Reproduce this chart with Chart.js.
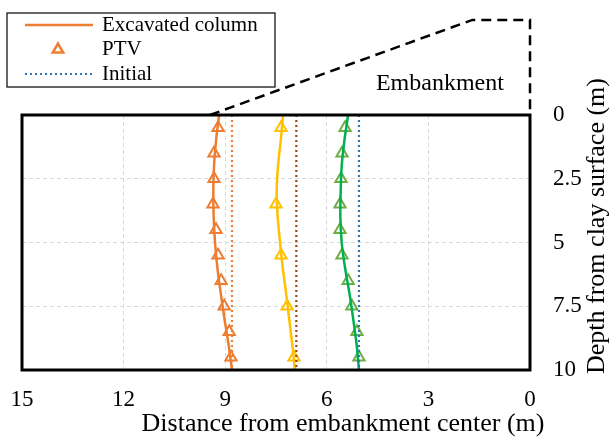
<!DOCTYPE html>
<html>
<head>
<meta charset="utf-8">
<script src="https://cdn.jsdelivr.net/npm/chart.js@4.4.1/dist/chart.umd.min.js"></script>
<style>
  html, body { margin: 0; padding: 0; background: #fff; }
</style>
</head>
<body>
<canvas id="profile" width="611" height="438"></canvas>
<script>
// depth (m) for the fitted profiles and for the PTV readings
const lineDepths = [0, 1, 2, 3, 4, 5, 6, 7, 8, 9, 10];
const ptvDepths = [0.5, 1.5, 2.5, 3.5, 4.5, 5.5, 6.5, 7.5, 8.5, 9.5];
const ptvDepthsMid = [0.5, 3.5, 5.5, 7.5, 9.5];

// excavated column positions, distance from embankment centre (m)
const colOuter = [9.18, 9.27, 9.33, 9.35, 9.34, 9.3, 9.23, 9.13, 9.02, 8.9, 8.8];
const colMid = [7.29, 7.36, 7.44, 7.48, 7.45, 7.38, 7.3, 7.2, 7.11, 7.02, 6.94];
const colInner = [5.37, 5.48, 5.56, 5.59, 5.6, 5.56, 5.46, 5.33, 5.22, 5.12, 5.05];

// PTV readings
const ptvOuter = [9.21, 9.33, 9.33, 9.36, 9.27, 9.21, 9.12, 9.03, 8.88, 8.83];
const ptvMid = [7.35, 7.5, 7.35, 7.17, 6.97];
const ptvInner = [5.46, 5.55, 5.58, 5.61, 5.61, 5.55, 5.37, 5.26, 5.11, 5.05];

// initial column positions
const initOuter = 8.8;
const initMid = 6.9;
const initInner = 5.05;
const initDepths = [0, 10];

// embankment outline (distance, depth above clay surface is negative)
const embX = [9.45, 1.7, 0, 0];
const embY = [0, -3.73, -3.73, 0];
const embLabel = { x: 2.66, y: -1.22, text: 'Embankment' };

const legendItems = ['Excavated column', 'PTV', 'Initial'];
const xTitle = 'Distance from embankment center (m)';
const yTitle = 'Depth from clay surface (m)';

const SERIF = '"Liberation Serif", "Times New Roman", serif';
const ORANGE = '#ED7D31', YELLOW = '#FFC000', GREEN = '#00B050', GREEN_PT = '#70AD47';
const BROWN = '#9E480E', BLUE = '#2E75B6';

const pts = (xs, ys) => xs.map((v, i) => ({ x: v, y: ys[i] }));
const flat = (v) => initDepths.map(d => ({ x: v, y: d }));

function profile(xs, color) {
  return { data: pts(xs, lineDepths), borderColor: color, borderWidth: 2.5,
           pointRadius: 0, tension: 0.3, fill: false };
}
function ptv(xs, ys, color) {
  return { data: pts(xs, ys), showLine: false, pointStyle: 'triangle',
           pointRadius: 6.5, pointBorderWidth: 2, pointBorderColor: color,
           pointBackgroundColor: 'rgba(0,0,0,0)', borderColor: color };
}
function initial(v, color) {
  return { data: flat(v), borderColor: color, borderWidth: 2.2, borderDash: [2, 3],
           pointRadius: 0, fill: false };
}

// frame round the plot, embankment label and both axis titles
const frame = {
  id: 'frame',
  afterDatasetsDraw(chart) {
    const { ctx, chartArea: a } = chart;
    ctx.save();
    ctx.strokeStyle = '#000';
    ctx.lineWidth = 3;
    ctx.strokeRect(a.left, a.top, a.right - a.left, a.bottom - a.top);

    const sx = chart.scales.x, sy = chart.scales.y;
    ctx.fillStyle = '#000';
    ctx.textAlign = 'center';
    ctx.textBaseline = 'middle';
    ctx.font = '24px ' + SERIF;
    ctx.fillText(embLabel.text, sx.getPixelForValue(embLabel.x), sy.getPixelForValue(embLabel.y));

    ctx.font = '26px ' + SERIF;
    ctx.fillText(xTitle, a.left + 321, 424);
    ctx.translate(597, a.top + 111);
    ctx.rotate(-Math.PI / 2);
    ctx.fillText(yTitle, 0, 0);
    ctx.restore();
  }
};

const boxLegend = {
  id: 'boxLegend',
  afterDraw(chart) {
    const ctx = chart.ctx;
    const left = 7, top = 13, w = 268, h = 74, row = 24.5;
    ctx.save();
    ctx.strokeStyle = '#000';
    ctx.lineWidth = 1.2;
    ctx.strokeRect(left, top, w, h);
    ctx.font = '21px ' + SERIF;
    ctx.textBaseline = 'middle';
    ctx.textAlign = 'left';
    legendItems.forEach((label, i) => {
      const y = top + 12 + i * row;
      if (i === 0) {
        ctx.strokeStyle = ORANGE; ctx.lineWidth = 2.5; ctx.setLineDash([]);
        ctx.beginPath(); ctx.moveTo(25, y); ctx.lineTo(93, y); ctx.stroke();
      } else if (i === 1) {
        ctx.strokeStyle = ORANGE;
        ctx.fillStyle = 'rgba(0,0,0,0)';
        Chart.helpers.drawPoint(ctx, { pointStyle: 'triangle', radius: 6, borderWidth: 2 }, 58, y);
      } else {
        ctx.strokeStyle = BLUE; ctx.lineWidth = 2; ctx.setLineDash([2, 3]);
        ctx.beginPath(); ctx.moveTo(25, y); ctx.lineTo(93, y); ctx.stroke();
        ctx.setLineDash([]);
      }
      ctx.fillStyle = '#000';
      ctx.fillText(label, 102, y);
    });
    ctx.restore();
  }
};

new Chart(document.getElementById('profile'), {
  type: 'line',
  data: {
    datasets: [
      initial(initOuter, ORANGE),
      initial(initMid, BROWN),
      initial(initInner, BLUE),
      profile(colOuter, ORANGE),
      profile(colMid, YELLOW),
      profile(colInner, GREEN),
      ptv(ptvOuter, ptvDepths, ORANGE),
      ptv(ptvMid, ptvDepthsMid, YELLOW),
      ptv(ptvInner, ptvDepths, GREEN_PT),
      { data: pts(embX, embY), borderColor: '#000', borderWidth: 2.5, borderDash: [10, 6],
        pointRadius: 0, tension: 0, clip: false, fill: false }
    ]
  },
  options: {
    responsive: false,
    animation: false,
    layout: { padding: { top: 115, left: 22, right: 0, bottom: 0 } },
    plugins: { legend: { display: false }, tooltip: { enabled: false } },
    scales: {
      x: {
        type: 'linear', reverse: true, min: 0, max: 15,
        afterFit(s) { s.height = 68; s.paddingLeft = 0; s.paddingRight = 0; },
        ticks: { stepSize: 3, color: '#000', padding: 16, font: { family: SERIF, size: 23 } },
        grid: {
          drawTicks: false,
          color: c => (c.tick.value === 0 || c.tick.value === 15) ? 'rgba(0,0,0,0)' : '#d9d9d9'
        },
        border: { display: false, dash: [4, 3] },
        title: { display: false }
      },
      y: {
        type: 'linear', reverse: true, min: 0, max: 10, position: 'right',
        afterFit(s) { s.width = 81; s.paddingTop = 0; s.paddingBottom = 0; },
        ticks: { stepSize: 2.5, color: '#000', padding: 23, font: { family: SERIF, size: 23 } },
        grid: {
          drawTicks: false,
          color: c => (c.tick.value === 0 || c.tick.value === 10) ? 'rgba(0,0,0,0)' : '#d9d9d9'
        },
        border: { display: false, dash: [4, 3] },
        title: { display: false }
      }
    }
  },
  plugins: [frame, boxLegend]
});
</script>
</body>
</html>
